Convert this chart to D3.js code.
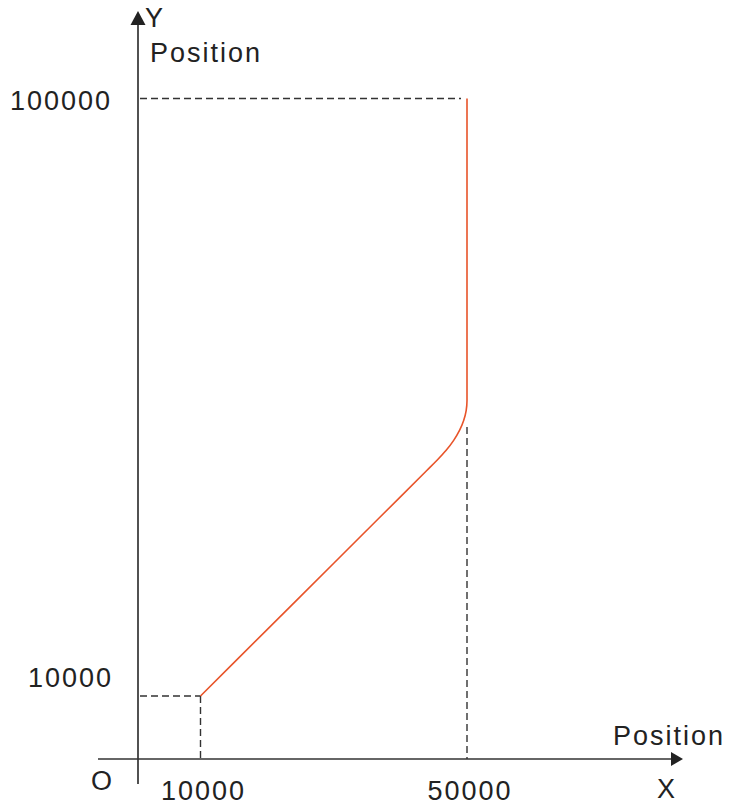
<!DOCTYPE html>
<html><head><meta charset="utf-8">
<script src="https://cdn.jsdelivr.net/npm/d3@7"></script>
<style>
html,body{margin:0;padding:0;background:#fff;}
text{font-family:"Liberation Sans",Arial,sans-serif;fill:#222;}
</style></head>
<body>
<svg id="chart" width="731" height="805"></svg>
<script>
// Data
const xTicks = [10000, 50000];
const yTicks = [10000, 100000];
const pathX = [10000, 20000, 30000, 40000, 44000, 45500, 46875, 48000, 48875, 49500, 49875, 50000, 50000];
const pathY = [10000, 20000, 30000, 40000, 44000, 45500, 47000, 48500, 50000, 51500, 53000, 54500, 100000];
const axisLabels = {x: "X", y: "Y", origin: "O", xTitle: "Position", yTitle: "Position"};

const svg = d3.select("#chart");
const x = d3.scaleLinear().domain([10000, 50000]).range([200.5, 467]);
const y = d3.scaleLinear().domain([10000, 100000]).range([696, 98.5]);

const axisX0 = 138, axisY0 = 759;
const axisColor = "#333";
const dashColor = "#333";
const fontSize = 27;

// Axes
svg.append("line").attr("x1", 98).attr("x2", 672).attr("y1", axisY0).attr("y2", axisY0)
  .attr("stroke", axisColor).attr("stroke-width", 1.7);
svg.append("path").attr("d", `M683,${axisY0} L671,${axisY0-7} L671,${axisY0+7} Z`).attr("fill", "#222");
svg.append("line").attr("x1", axisX0).attr("x2", axisX0).attr("y1", 24).attr("y2", 784)
  .attr("stroke", axisColor).attr("stroke-width", 1.7);
svg.append("path").attr("d", `M${axisX0},11 L${axisX0-7.5},25 L${axisX0+7.5},25 Z`).attr("fill", "#222");

// Dashed guides
const dash = "7,4";
function dline(x1, y1, x2, y2) {
  svg.append("line").attr("x1", x1).attr("y1", y1).attr("x2", x2).attr("y2", y2)
    .attr("stroke", dashColor).attr("stroke-width", 1.4).attr("stroke-dasharray", dash);
}
dline(axisX0 + 2, y(yTicks[1]), x(xTicks[1]) - 6, y(yTicks[1]));
dline(axisX0 + 2, y(yTicks[0]), x(xTicks[0]), y(yTicks[0]));
dline(x(xTicks[0]), y(yTicks[0]), x(xTicks[0]), axisY0);
dline(x(xTicks[1]), 427, x(xTicks[1]), axisY0);

// Curve
const pts = pathX.map((v, i) => [v, pathY[i]]);
const line = d3.line().x(d => x(d[0])).y(d => y(d[1])).curve(d3.curveMonotoneY);
svg.append("path").attr("d", line(pts)).attr("fill", "none")
  .attr("stroke", "#e8542a").attr("stroke-width", 1.6);

// Tick labels
function label(t, px, py, anchor) {
  svg.append("text").attr("x", px).attr("y", py).attr("text-anchor", anchor || "start")
    .attr("font-size", fontSize).attr("letter-spacing", 2).text(t);
}
label(String(yTicks[1]), 112, 110, "end");
label(String(yTicks[0]), 113, 687, "end");
xTicks.forEach(t => label(String(t), x(t) + 3, 800, "middle"));
label(axisLabels.origin, 91, 790);
label(axisLabels.x, 657, 798);
label(axisLabels.y, 145, 27);
label(axisLabels.yTitle, 150, 62);
label(axisLabels.xTitle, 613, 745);
</script>
</body></html>
